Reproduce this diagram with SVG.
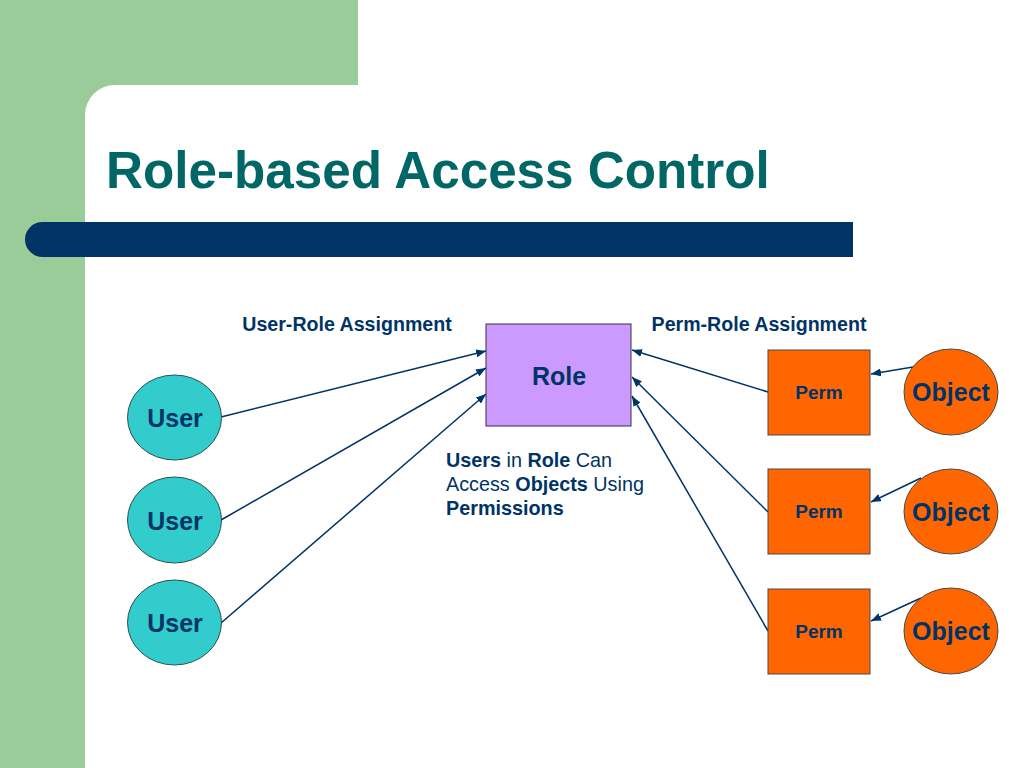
<svg xmlns="http://www.w3.org/2000/svg" width="1024" height="768" viewBox="0 0 1024 768">
  <style>
    .bold { font-family: "Liberation Sans", Arial, sans-serif; font-weight: bold; fill: #003366; }
    .reg { font-family: "Liberation Sans", Arial, sans-serif; font-weight: normal; fill: #003366; }
    .user { fill: #33CCCC; stroke: #2F4F4F; stroke-width: 1; }
    .orange { fill: #FF6600; stroke: #4A4A4A; stroke-width: 1; }
    .role { fill: #CC99FF; stroke: #333344; stroke-width: 1; }
    .conn { stroke: #003366; stroke-width: 1.5; fill: none; marker-end: url(#arrow); }
  </style>
  <defs>
    <marker id="arrow" viewBox="0 0 10 8" refX="10" refY="4" markerWidth="10" markerHeight="8" markerUnits="userSpaceOnUse" orient="auto">
      <path d="M0,0 L10,4 L0,8 Z" fill="#003366"/>
    </marker>
  </defs>

  <!-- background -->
  <rect x="0" y="0" width="1024" height="768" fill="#FFFFFF"/>
  <rect x="0" y="0" width="358" height="120" fill="#99CC99"/>
  <rect x="0" y="0" width="120" height="768" fill="#99CC99"/>
  <rect x="85" y="85" width="1000" height="750" rx="30" ry="30" fill="#FFFFFF"/>
  <rect x="25" y="222" width="828" height="35" rx="17.5" ry="17.5" fill="#003366"/>
  <rect x="60" y="222" width="793" height="35" fill="#003366"/>

  <text x="106" y="188" font-family="'Liberation Sans', Arial, sans-serif" font-weight="bold" font-size="51.2" fill="#006666">Role-based Access Control</text>

  <!-- labels -->
  <text class="bold" x="347" y="331" font-size="19.6" text-anchor="middle">User-Role Assignment</text>
  <text class="bold" x="759" y="331" font-size="19.6" text-anchor="middle">Perm-Role Assignment</text>
  <text x="446" y="467" font-size="19.8"><tspan class="bold">Users</tspan><tspan class="reg"> in </tspan><tspan class="bold">Role</tspan><tspan class="reg"> Can</tspan></text>
  <text x="446" y="491" font-size="19.8"><tspan class="reg">Access </tspan><tspan class="bold">Objects</tspan><tspan class="reg"> Using</tspan></text>
  <text x="446" y="515" font-size="19.8" class="bold">Permissions</text>

  <!-- connectors -->
  <g id="connectors">
    <line class="conn" x1="221" y1="417" x2="486" y2="351"/>
    <line class="conn" x1="221" y1="520" x2="486" y2="368"/>
    <line class="conn" x1="221" y1="623" x2="486" y2="394"/>
    <line class="conn" x1="768" y1="392" x2="632" y2="350"/>
    <line class="conn" x1="768" y1="512" x2="632" y2="377"/>
    <line class="conn" x1="768" y1="631" x2="632" y2="396"/>
    <line class="conn" x1="913" y1="367" x2="871" y2="374"/>
    <line class="conn" x1="921" y1="478" x2="871" y2="502"/>
    <line class="conn" x1="921" y1="598" x2="871" y2="621"/>
  </g>

  <!-- nodes -->
  <g id="role">
    <rect class="role" x="486" y="324" width="145" height="102"/>
    <text class="bold" x="559" y="385" font-size="25" text-anchor="middle">Role</text>
  </g>
  <g id="user1">
    <ellipse class="user" cx="174.5" cy="417.5" rx="47" ry="42.5"/>
    <text class="bold" x="175" y="427" font-size="25" text-anchor="middle">User</text>
  </g>
  <g id="user2">
    <ellipse class="user" cx="174.5" cy="520" rx="47" ry="43"/>
    <text class="bold" x="175" y="530" font-size="25" text-anchor="middle">User</text>
  </g>
  <g id="user3">
    <ellipse class="user" cx="174.5" cy="622.5" rx="47" ry="42.5"/>
    <text class="bold" x="175" y="632" font-size="25" text-anchor="middle">User</text>
  </g>
  <g id="perm1">
    <rect class="orange" x="768" y="350" width="102" height="85"/>
    <text class="bold" x="819" y="399" font-size="19" text-anchor="middle">Perm</text>
  </g>
  <g id="perm2">
    <rect class="orange" x="768" y="469" width="102" height="85"/>
    <text class="bold" x="819" y="518" font-size="19" text-anchor="middle">Perm</text>
  </g>
  <g id="perm3">
    <rect class="orange" x="768" y="589" width="102" height="85"/>
    <text class="bold" x="819" y="638" font-size="19" text-anchor="middle">Perm</text>
  </g>
  <g id="object1">
    <ellipse class="orange" cx="951" cy="392" rx="47" ry="43"/>
    <text class="bold" x="951" y="401" font-size="25" text-anchor="middle">Object</text>
  </g>
  <g id="object2">
    <ellipse class="orange" cx="951" cy="511.5" rx="47" ry="42.5"/>
    <text class="bold" x="951" y="521" font-size="25" text-anchor="middle">Object</text>
  </g>
  <g id="object3">
    <ellipse class="orange" cx="951" cy="631" rx="47" ry="43"/>
    <text class="bold" x="951" y="640" font-size="25" text-anchor="middle">Object</text>
  </g>
</svg>
